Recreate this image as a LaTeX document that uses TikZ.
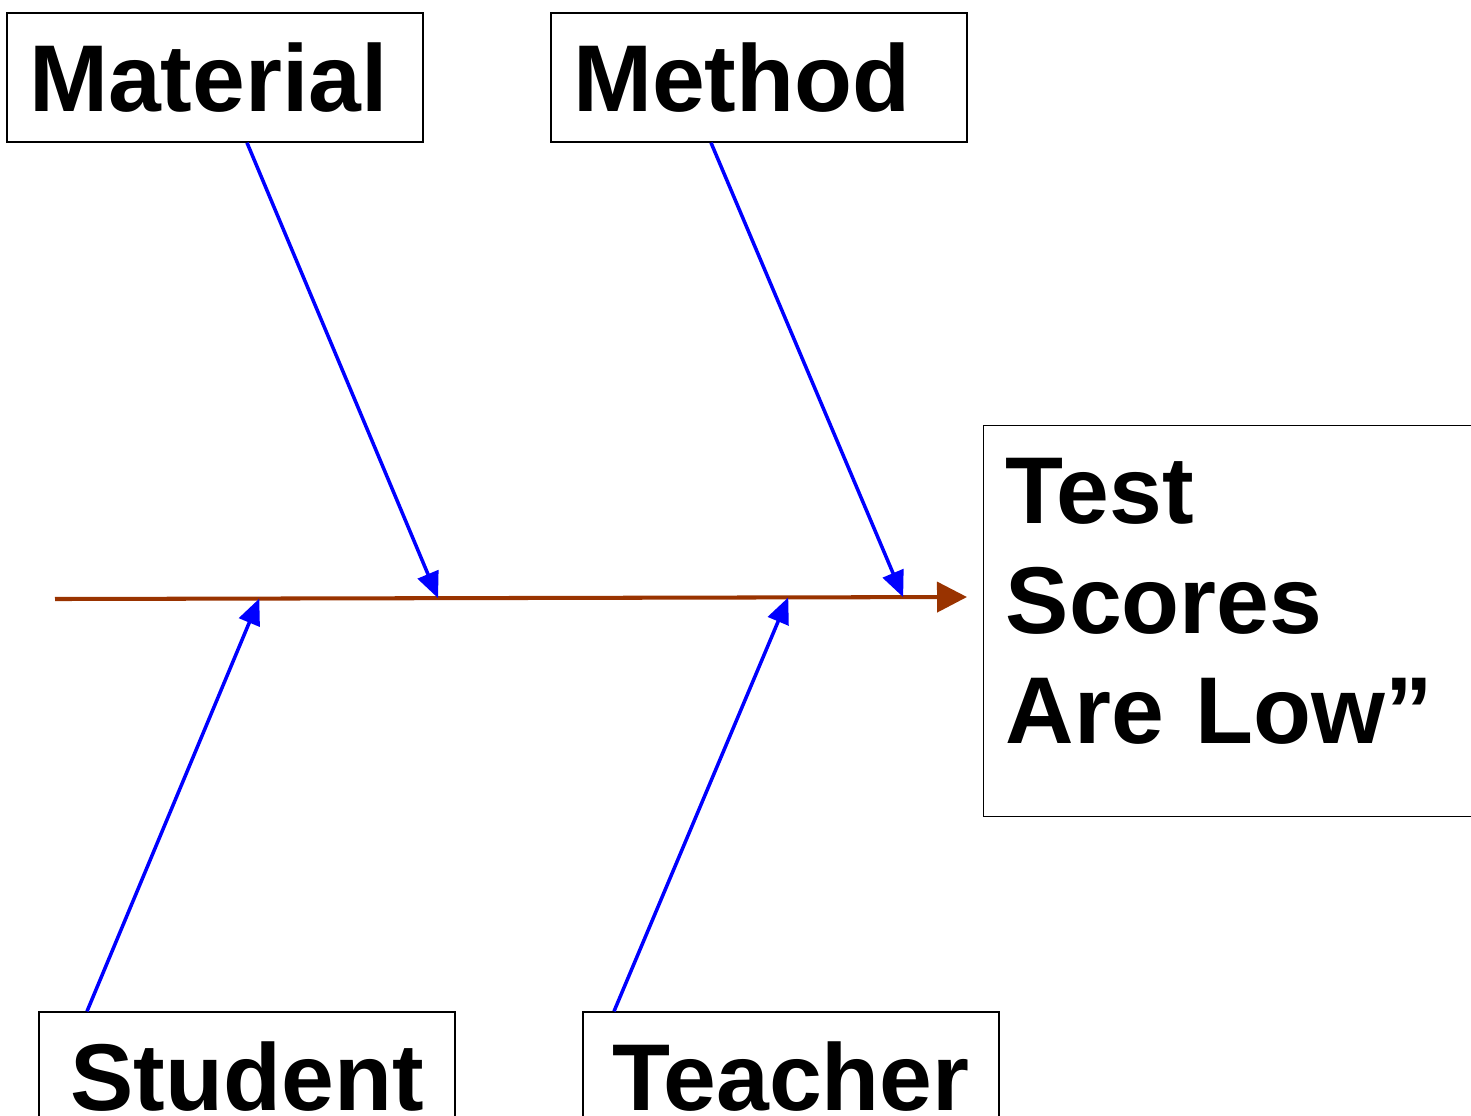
\documentclass[tikz,border=0pt]{standalone}
\usepackage{fontspec}
\setmainfont{Liberation Sans}
\usetikzlibrary{arrows.meta, positioning, calc}
\definecolor{spinebrown}{HTML}{993300}
\definecolor{boneblue}{HTML}{0000FF}
\newcommand{\bigbold}{\fontsize{54pt}{62.6pt}\selectfont\bfseries}

\begin{document}
\begin{tikzpicture}[font=\bigbold,
  causebox/.style={draw, line width=0.8pt, text width=7.44cm, inner xsep=0.44cm,
    inner ysep=0pt, minimum height=2.58cm, align=#1},
  bone/.style={draw=boneblue, line width=2pt, -{Triangle[length=0.52cm, width=0.44cm]}}]
  \useasboundingbox (0,0) rectangle (29.42,-22.30);
  % cause boxes
  \foreach \name/\lab/\x/\y/\al in {material/Material/4.30/-1.55/left,
    method/Method/15.18/-1.55/left, student/Student/4.94/-21.53/center,
    teacher/Teacher/15.82/-21.53/center}{%
    \node[causebox=\al] (\name) at (\x,\y) {\lab};}
  % effect box
  \node[draw, line width=0.8pt, anchor=north west, text width=9.2cm, inner xsep=0.44cm,
    minimum height=7.82cm, text depth=5.2cm, align=left] (effect) at (19.66,-8.5)
    {Test\\Scores\\Are Low”};
  % spine
  \coordinate (tail) at (1.10,-11.98);
  \coordinate (head) at (19.34,-11.94);
  \draw[spinebrown, line width=2.3pt, -{Triangle[length=0.6cm, width=0.6cm]}] (tail) -- (head);
  \coordinate (jmat) at ($(tail)!0.42!(head)$);
  \coordinate (jmeth) at ($(tail)!0.93!(head)$);
  \coordinate (jstud) at ($(tail)!0.224!(head)$);
  \coordinate (jteach) at ($(tail)!0.804!(head)$);
  % bones
  \draw[bone] ([xshift=0.64cm]material.south) -- (jmat);
  \draw[bone] ([xshift=-0.96cm]method.south) -- (jmeth);
  \draw[bone] ([xshift=-3.2cm]student.north) -- (jstud);
  \draw[bone] ([xshift=-3.54cm]teacher.north) -- (jteach);
\end{tikzpicture}
\end{document}
